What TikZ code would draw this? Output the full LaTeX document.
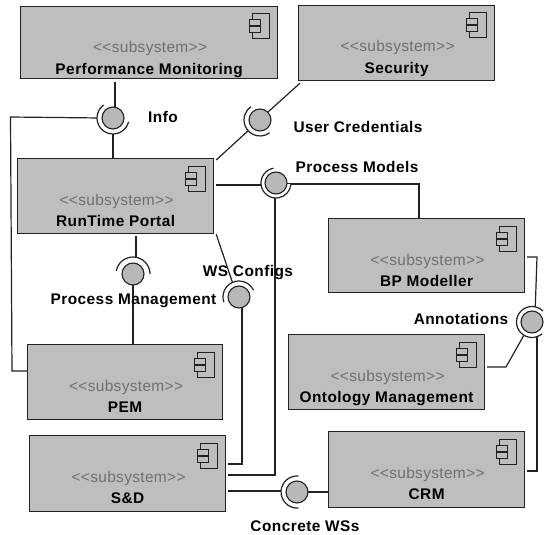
\documentclass[tikz,border=0pt]{standalone}
\usepackage{fontspec}
\setmainfont{Liberation Sans}
\newfontfamily\thinfont{Liberation Sans}[LetterSpace=2]
\newfontfamily\labfont{Liberation Sans}[LetterSpace=3]
\usetikzlibrary{calc}
\definecolor{boxgray}{HTML}{BEBEBE}
\definecolor{ballgray}{HTML}{B8B8B8}
\definecolor{ink}{HTML}{222222}
\definecolor{stereo}{HTML}{707070}
\tikzset{
  comp/.style={draw=ink,fill=boxgray,line width=1.2pt,inner sep=0pt,anchor=north west},
  ball/.style={circle,draw=ink,fill=ballgray,line width=1.1pt,minimum size=22pt,inner sep=0pt},
  link/.style={draw=ink,line width=1.2pt},
  cup/.style={draw=ink,line width=1.2pt},
  stereotxt/.style={text=stereo,font=\fontsize{15.5}{16}\thinfont,inner sep=0pt,anchor=base},
  nametxt/.style={text=black,font=\fontsize{15.4}{16}\labfont\bfseries,inner sep=0pt,anchor=base},
  lab/.style={text=black,font=\fontsize{15.4}{16}\labfont\bfseries,inner sep=0pt,anchor=base},
  icon/.style={draw=ink,line width=1pt,fill=boxgray}
}
% #1 name, #2 left, #3 top, #4 width, #5 height, #6 title
\newcommand{\subsys}[6]{%
  \node[comp,minimum width=#4pt,minimum height=#5pt] (#1) at (#2,#3) {};
  \node[stereotxt] (#1s) at ($(#1.north)+(1,47)$) {<{}<subsystem>{}>};
  \node[nametxt] (#1t) at ($(#1.north)+(0,68.5)$) {#6};
  \draw[icon] ($(#1.north east)+(-26,8)$) rectangle ($(#1.north east)+(-9,33)$);
  \draw[icon] ($(#1.north east)+(-29,14)$) rectangle ($(#1.north east)+(-18,20)$);
  \draw[icon] ($(#1.north east)+(-29,21)$) rectangle ($(#1.north east)+(-18,27)$);
}
% #1 ball name, #2 x, #3 y, #4 start angle, #5 end angle (anticlockwise on the page), #6 radius
\newcommand{\iface}[6]{%
  \fill[white] (#2,#3) -- ($(#2,#3)+(-#4:#6)$) arc[start angle=#4,end angle=#5,radius=#6pt] -- cycle;
  \node[ball] (#1) at (#2,#3) {};
  \draw[cup] ($(#1)+(-#4:#6)$) arc[start angle=#4,end angle=#5,radius=#6pt];
}
\begin{document}
\begin{tikzpicture}[x=1pt,y=-1pt]
\useasboundingbox (0,0) rectangle (544,535);
\subsys{perf}{20}{6}{257}{72}{Performance Monitoring}
\subsys{sec}{298}{5}{196}{75}{Security}
\subsys{rt}{17}{158}{196}{75}{RunTime Portal}
\subsys{bp}{328}{218}{196}{74}{BP Modeller}
\subsys{onto}{288}{334}{196}{75}{Ontology Management}
\subsys{crm}{328}{431}{196}{76}{CRM}
\subsys{pem}{27}{344}{195}{75}{PEM}
\subsys{sd}{29}{435}{196}{76}{S\&D}
% connector bend points
\coordinate (infoL) at (10.5,117);
\coordinate (infoB) at (12,371);
\coordinate (modR) at (419,184);
\coordinate (modD) at (275,475);
\coordinate (wsD) at (242,464);
\coordinate (bpA) at (537,257);
\coordinate (ontoA) at (506,367);
\coordinate (crmA) at (537,471);
% connectors
\draw[link] ($(perf.south -| 115,0)+(0,3)$) -- (115,112);
\draw[link] (113,124) -- (rt.north -| 113,0);
\draw[link] (100,118) -- (infoL) -- (infoB) -- (pem.west |- infoB);
\draw[link] ($(sec.south west)+(2,2)$) -- (268,112);
\draw[link] ($(rt.north east)+(2,2)$) -- (250,129);
\draw[link] ($(rt.east |- 0,185)+(2,0)$) -- (268,185);
\draw[link] (284,184) -- (modR) -- (bp.north -| modR);
\draw[link] (275,190) -- (modD) -- ($(sd.east |- modD)+(2,0)$);
\draw[link] ($(rt.south -| 136,0)+(0,2)$) -- (136,264);
\draw[link] (133,280) -- (pem.north -| 133,0);
\draw[link] ($(rt.south east)+(2,0)$) -- (234,287);
\draw[link] (242,300) -- (wsD) -- ($(sd.east |- wsD)+(2,0)$);
\draw[link] ($(sd.east |- 0,491)+(2,0)$) -- (290,491);
\draw[link] (304,492) -- (crm.west |- 0,492);
\draw[link] ($(bp.east |- bpA)+(2,0)$) -- (bpA) -- (535,315);
\draw[link] ($(onto.east |- ontoA)+(2,0)$) -- (ontoA) -- (528,328);
\draw[link] ($(crm.east |- crmA)+(2,0)$) -- (crmA) -- (537,328);
% interfaces
\iface{info}{113}{118}{126}{346}{16}
\iface{cred}{260}{120}{124}{307}{16}
\iface{models}{276}{183}{100}{355}{15}
\iface{mgmt}{133}{274}{0}{170}{17}
\iface{ws}{239}{297}{25}{199}{16}
\iface{ann}{532}{322}{45}{310}{15.5}
\iface{conc}{297}{492}{85}{275}{16}
% labels
\node[lab] (l1) at (163,122) {Info};
\node[lab] (l2) at (358,132.5) {User Credentials};
\node[lab] (l3) at (357,172) {Process Models};
\node[lab] (l4) at (133.5,304) {Process Management};
\node[lab] (l5) at (248,276) {WS Configs};
\node[lab] (l6) at (461,324.5) {Annotations};
\node[lab] (l7) at (305,531) {Concrete WSs};
\end{tikzpicture}
\end{document}
